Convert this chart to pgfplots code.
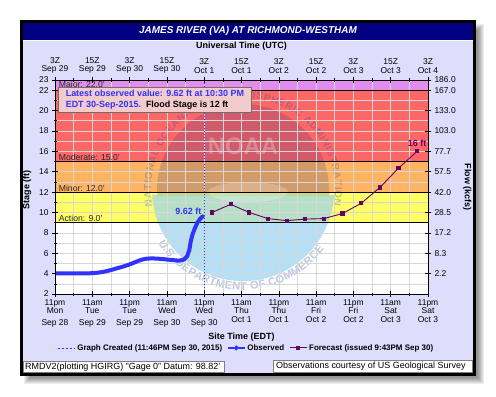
\documentclass[border=0pt]{standalone}
\usepackage{fontspec}
\setmainfont{Liberation Sans}
\usepackage{pgfplots}
\pgfplotsset{compat=1.18}
\usetikzlibrary{decorations.text}
\definecolor{navyT}{RGB}{0,0,128}
\definecolor{lav}{RGB}{222,222,252}
\definecolor{majorc}{RGB}{226,140,238}
\definecolor{modc}{RGB}{255,102,102}
\definecolor{minc}{RGB}{255,180,100}
\definecolor{actc}{RGB}{255,255,102}
\definecolor{gridc}{RGB}{215,215,215}
\definecolor{obs}{RGB}{50,50,255}
\definecolor{fc}{RGB}{102,0,102}
\definecolor{wmnavy}{RGB}{0,40,130}
\definecolor{wmblue}{RGB}{150,210,240}
\definecolor{wmtext}{RGB}{40,70,150}
\definecolor{boxc}{RGB}{242,204,204}
\newcommand{\fs}[1]{\fontsize{#1}{#1}\selectfont}
\pgfplotsset{geom/.style={at={(55bp,102bp)}, anchor=south west,
  scale only axis, width=373bp, height=214bp,
  xmin=0, xmax=120, ymin=2, ymax=23}}
\begin{document}
\begin{tikzpicture}[x=1bp,y=1bp]
\fill[white] (0,0) rectangle (496,396);
% shadow
\foreach \i in {0,1,...,6}{\fill[black, opacity=0.07] (24+\i,12+\i) rectangle (484-\i,372-\i);}
% frame
\fill[black] (20,20) rectangle (476,376);
\fill[lav] (23,23) rectangle (473,373);
\fill[navyT] (23,356.5) rectangle (473,373);
\draw[white, line width=0.8] (23,356.1) -- (473,356.1);
\node[white, font=\bfseries\itshape\fs{10}] at (248,365) {JAMES RIVER (VA) AT RICHMOND-WESTHAM};

% ---- background axis: flood category bands and watermark
\begin{axis}[geom, hide axis]
\addplot[fill=majorc, draw=none] coordinates {(0,22) (120,22) (120,23) (0,23)} -- cycle;
\addplot[fill=modc, draw=none] coordinates {(0,15) (120,15) (120,22) (0,22)} -- cycle;
\addplot[fill=minc, draw=none] coordinates {(0,12) (120,12) (120,15) (0,15)} -- cycle;
\addplot[fill=actc, draw=none] coordinates {(0,9) (120,9) (120,12) (0,12)} -- cycle;
\addplot[fill=white, draw=none] coordinates {(0,2) (120,2) (120,9) (0,9)} -- cycle;
\begin{scope}
\clip (axis cs:0,2) rectangle (axis cs:120,23);
\coordinate (C) at (axis cs:60.5,12.2);
\begin{scope}
\clip ([shift={(-100bp,-5bp)}]C) rectangle ([shift={(100bp,100bp)}]C);
\fill[wmnavy, opacity=0.18] (C) circle[radius=86bp];
\end{scope}
\begin{scope}
\clip ([shift={(-100bp,-100bp)}]C) rectangle ([shift={(100bp,-5bp)}]C);
\fill[wmblue, opacity=0.7] (C) circle[radius=91bp];
\end{scope}
\fill[white, opacity=0.22] ([shift={(5bp,-2bp)}]C) ellipse[x radius=40bp, y radius=10bp];
\node[white, opacity=0.28, font=\bfseries\fs{24}] at ([shift={(0bp,44bp)}]C) {NOAA};
\begin{scope}[opacity=0.3]
\path[decorate, decoration={text along path, text color=wmtext, text align=fit to path,
  text={|\bfseries\fs{10}|NATIONAL OCEANIC AND ATMOSPHERIC ADMINISTRATION}}]
  ([shift={(190:92bp)}]C) arc[start angle=190, end angle=-10, radius=92bp];
\path[decorate, decoration={text along path, text color=wmtext, text align=fit to path,
  text={|\bfseries\fs{11}|U.S. DEPARTMENT OF COMMERCE}}]
  ([shift={(212:100bp)}]C) arc[start angle=212, end angle=324, radius=100bp];
\end{scope}
\end{scope}
\end{axis}

% ---- main axis
\begin{axis}[geom,
  axis line style={black, line width=0.8pt},
  xtick={0,12,...,120}, minor xtick={6,18,...,114},
  ytick={2,4,...,22,23}, minor ytick={3,5,...,21},
  xtick pos=left, ytick pos=left,
  tick align=center, major tick length=6bp, minor tick length=3bp,
  tick style={black, line width=0.6pt},
  grid=both,
  major grid style={gridc, line width=0.6pt},
  minor grid style={gridc, line width=0.6pt},
  xticklabels={{11pm\\Mon\\[3.5bp]Sep 28},{11am\\Tue\\[3.5bp]Sep 29},{11pm\\Tue\\[3.5bp]Sep 29},{11am\\Wed\\[3.5bp]Sep 30},{11pm\\Wed\\[3.5bp]Sep 30},{11am\\Thu\\[0.5bp]Oct 1},{11pm\\Thu\\[0.5bp]Oct 1},{11am\\Fri\\[0.5bp]Oct 2},{11pm\\Fri\\[0.5bp]Oct 2},{11am\\Sat\\[0.5bp]Oct 3},{11pm\\Sat\\[0.5bp]Oct 3}},
  yticklabels={2,4,6,8,10,12,14,16,18,20,22,23},
  xticklabel style={align=center, font=\fs{8.5}, yshift=1bp},
  yticklabel style={font=\fs{8.5}},
  xlabel={Site Time (EDT)},
  xlabel style={at={(axis description cs:0.5,-0.2)}, anchor=center, font=\bfseries\fs{9}},
  ylabel={Stage (ft)},
  ylabel style={at={(axis description cs:-0.075,0.486)}, anchor=center, font=\bfseries\fs{9}},
  legend columns=3,
  legend style={at={(axis description cs:0.513,-0.252)}, anchor=center, draw=none, fill=none,
    font=\bfseries\fs{8}, inner sep=0pt,
    /tikz/every even column/.append style={column sep=3bp}},
]
\addlegendimage{obs, line width=0.8bp, dash pattern=on 2bp off 2bp}
\addlegendentry{Graph Created (11:46PM Sep 30, 2015)}
\addlegendimage{obs, line width=1.2bp, mark=*, mark size=1.8bp}
\addlegendentry{Observed}
\addlegendimage{fc, line width=1bp, mark=square*, mark size=1.6bp}
\addlegendentry{Forecast (issued 9:43PM Sep 30)}

% flood category lines
\addplot[forget plot, black, line width=0.9bp] coordinates {(0,9) (120,9)};
\addplot[forget plot, black, line width=0.9bp] coordinates {(0,12) (120,12)};
\addplot[forget plot, black, line width=0.9bp] coordinates {(0,15) (120,15)};
\addplot[forget plot, black, line width=0.9bp] coordinates {(0,22) (120,22)};
\node[anchor=south west, inner sep=0.5bp, font=\fs{8.7}, black!85] at (axis cs:1,22) {Major: 22.0'};
\node[anchor=south west, inner sep=0.5bp, font=\fs{8.7}, black!85] at (axis cs:1,15) {Moderate: 15.0'};
\node[anchor=south west, inner sep=0.5bp, font=\fs{8.7}, black!85] at (axis cs:1,12) {Minor: 12.0'};
\node[anchor=south west, inner sep=0.5bp, font=\fs{8.7}, black!85] at (axis cs:1,9) {Action: 9.0'};

% graph created line
\addplot[forget plot, obs, line width=0.9bp, dash pattern=on 1.5bp off 1.5bp] coordinates {(48.1,2) (48.1,23)};

% observed
\addplot[forget plot, obs, line width=4bp, line join=round, line cap=round] coordinates {
(0,4.02) (8,4.02) (12,4.04) (14,4.1) (16,4.2) (18,4.35) (20,4.53) (22,4.7) (24,4.9)
(26,5.15) (27.5,5.33) (29,5.45) (31,5.5) (34,5.45) (37,5.35) (40,5.27) (41.5,5.38)
(42.5,5.7) (43.2,6.3) (43.7,7.2) (44.3,7.9) (45,8.45) (45.8,9.0) (46.6,9.35) (47.5,9.62)};
\node[anchor=south east, obs, font=\bfseries\fs{9}, inner sep=0.5bp] at (axis cs:47.3,9.75) {9.62 ft};

% forecast
\addplot[forget plot, fc, line width=0.9bp, mark=square*, mark size=1.6bp] coordinates {
(50.5,10.0) (56.5,10.8) (62.5,10.0) (68.5,9.4) (74.5,9.2) (80.5,9.35) (86.5,9.4)
(92.5,9.9) (98.5,10.9) (104.5,12.45) (110.5,14.35) (116.5,16.0)};
\node[anchor=south, fc, font=\bfseries\fs{9}, inner sep=1bp] at (axis cs:116.5,16.3) {16 ft};
\end{axis}

% ---- top / right axis
\begin{axis}[geom,
  axis line style={black, line width=0.8pt},
  xtick={0,12,...,120}, minor xtick={6,18,...,114},
  ytick={4,6,...,22,23},
  xtick pos=right, ytick pos=right, xticklabel pos=right, yticklabel pos=right,
  tick align=center, major tick length=6bp, minor tick length=3bp,
  tick style={black, line width=0.6pt},
  xticklabels={{3Z\\Sep 29},{15Z\\Sep 29},{3Z\\Sep 30},{15Z\\Sep 30},{3Z\\Oct 1},{15Z\\Oct 1},{3Z\\Oct 2},{15Z\\Oct 2},{3Z\\Oct 3},{15Z\\Oct 3},{3Z\\Oct 4}},
  yticklabels={2.2,8.3,17.2,28.5,42.0,57.5,77.7,103.0,133.0,167.0,186.0},
  xticklabel style={align=center, font=\fs{8.5}},
  yticklabel style={font=\fs{8.5}},
  xlabel={Universal Time (UTC)},
  xlabel style={at={(axis description cs:0.5,1.159)}, anchor=center, font=\bfseries\fs{9}},
  ylabel={Flow (kcfs)},
  ylabel style={at={(axis description cs:1.105,0.5)}, anchor=center, rotate=180, font=\bfseries\fs{9}},
]
\addplot[draw=none] coordinates {(0,2)};
\end{axis}

% info box
\node[draw={rgb,255:red,110;green,110;blue,110}, fill=boxc, line width=0.8bp, anchor=north west,
  minimum width=193bp, minimum height=25bp, inner sep=2.5bp, align=left,
  font=\bfseries\fs{9}] at (58,309)
  {{\color{obs}Latest observed value: 9.62 ft at 10:30 PM}\\[1.5bp]{\color{obs}EDT 30-Sep-2015.}\ \ Flood Stage is 12 ft};

% footer
\draw[fill=white, draw=gray, line width=0.8bp] (23,23.5) rectangle (224,34.5);
\node[anchor=west, font=\fs{9}, inner sep=0pt] at (25,29) {RMDV2(plotting HGIRG) "Gage 0" Datum: 98.82'};
\draw[fill=white, draw=gray, line width=0.8bp] (273,23.5) rectangle (472.5,35.5);
\node[anchor=west, font=\fs{9}, inner sep=0pt] at (276,29.5) {Observations courtesy of US Geological Survey};
\end{tikzpicture}
\end{document}
